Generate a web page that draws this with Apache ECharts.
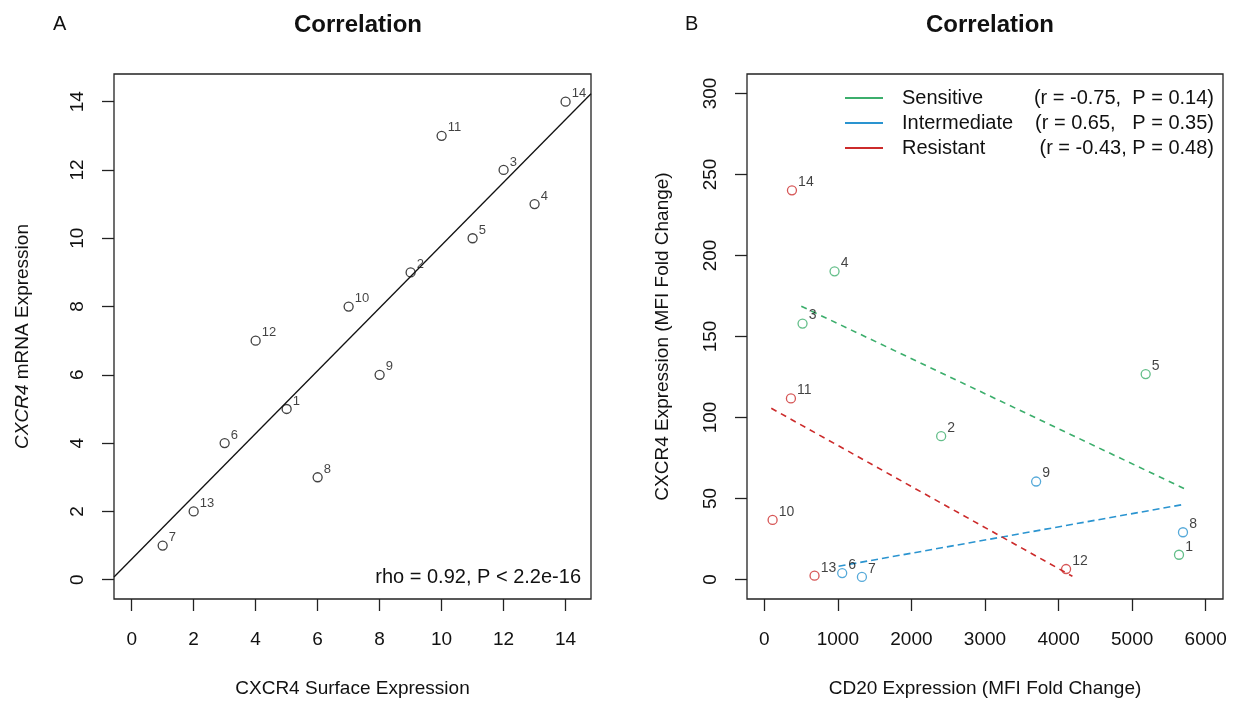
<!DOCTYPE html>
<html>
<head>
<meta charset="utf-8">
<title>Correlation</title>
<script src="https://cdn.jsdelivr.net/npm/echarts@6/dist/echarts.min.js"></script>
<style>
	html, body { margin : 0; padding : 0; background : #fff; }
	#main { width : 1233px; height : 703px; }
</style>
</head>
<body>
<div id="main"></div>
<script>
// panel A: ranks, sample 1..14
var sampleIds = ['1', '2', '3', '4', '5', '6', '7', '8', '9', '10', '11', '12', '13', '14'];
var surfaceRank = [5, 9, 12, 13, 11, 3, 1, 6, 8, 7, 10, 4, 2, 14];
var mrnaRank = [5, 9, 12, 11, 10, 4, 1, 3, 6, 8, 13, 7, 2, 14];
var fitAX = [-0.57, 14.82];
var fitAY = [0.08, 14.23];
var ticksA = [0, 2, 4, 6, 8, 10, 12, 14];

// panel B: CD20 vs CXCR4 (MFI fold change) by group
var sensIds = ['1', '2', '3', '4', '5'];
var sensCD20 = [5637, 2404, 520, 955, 5184];
var sensCXCR4 = [15.3, 88.5, 158.0, 190.2, 126.8];
var interIds = ['6', '7', '8', '9'];
var interCD20 = [1059, 1327, 5691, 3695];
var interCXCR4 = [4.0, 1.6, 29.2, 60.5];
var resIds = ['10', '11', '12', '13', '14'];
var resCD20 = [113, 362, 4102, 683, 376];
var resCXCR4 = [36.8, 111.8, 6.5, 2.4, 240.2];
var fitSensX = [503, 5705];
var fitSensY = [168.7, 56.2];
var fitInterX = [1010, 5705];
var fitInterY = [8.2, 46.4];
var fitResX = [95, 4188];
var fitResY = [105.7, 2.0];
var ticksBX = [0, 1000, 2000, 3000, 4000, 5000, 6000];
var ticksBY = [0, 50, 100, 150, 200, 250, 300];
var groupStats = ['(r = -0.75,  P = 0.14)', '(r = 0.65,   P = 0.35)', '(r = -0.43, P = 0.48)'];

var FONT = '"Liberation Sans", Arial, sans-serif';
var GREEN = '#3cae6c', BLUE = '#2a94d0', RED = '#cc2b2b';

function pts(xs, ys, ids) {
	var out = [];
	for (var i = 0; i < xs.length; i++) {
		out.push({ name : ids ? ids[i] : '', value : [xs[i], ys[i]] });
	}
	return out;
}

function scatter(name, idx, xs, ys, ids, color, fs) {
	return {
		name : name,
		type : 'scatter',
		xAxisIndex : idx,
		yAxisIndex : idx,
		symbol : 'circle',
		symbolSize : 9,
		itemStyle : { color : 'rgba(0,0,0,0)', borderColor : color, borderWidth : 1.3 },
		label : {
			show : true,
			formatter : '{b}',
			position : 'right',
			distance : 1,
			offset : [0, -8],
			color : '#111',
			fontSize : fs,
			fontFamily : FONT
		},
		emphasis : { disabled : true },
		z : 3,
		data : pts(xs, ys, ids)
	};
}

function fitLine(name, idx, xs, ys, color, dash) {
	return {
		name : name,
		type : 'line',
		xAxisIndex : idx,
		yAxisIndex : idx,
		showSymbol : false,
		symbol : 'none',
		silent : true,
		itemStyle : { color : color },
		lineStyle : { color : color, width : dash ? 1.6 : 1.3, type : dash || 'solid' },
		z : 2,
		data : pts(xs, ys)
	};
}

function valueAxis(idx, pos, min, max, ticks, name, gap, rich) {
	return {
		type : 'value',
		gridIndex : idx,
		position : pos,
		min : min,
		max : max,
		splitLine : { show : false },
		axisLine : { show : false, onZero : false },
		axisTick : { show : true, inside : false, length : 12, customValues : ticks,
			lineStyle : { color : '#222', width : 1.3 } },
		axisLabel : { customValues : ticks, margin : pos === 'left' ? 27 : 31,
			rotate : pos === 'left' ? 90 : 0,
			formatter : function(v) { return String(v); },
			fontSize : 19, color : '#111', fontFamily : FONT },
		name : name,
		nameLocation : 'middle',
		nameGap : gap,
		nameRotate : pos === 'left' ? 90 : 0,
		nameTextStyle : { fontSize : 19, color : '#111', fontFamily : FONT, rich : rich }
	};
}

var legendRich = {
	n : { width : 122, fontSize : 20, fontFamily : FONT, color : '#111' },
	s : { width : 190, align : 'right', fontSize : 20, fontFamily : FONT, color : '#111' }
};
var legendNames = ['Sensitive', 'Intermediate', 'Resistant'];

var option = {
	animation : false,
	backgroundColor : '#fff',
	title : [
		{ text : 'A', left : 48, top : 9, textStyle : { fontSize : 20, fontWeight : 'normal', color : '#111', fontFamily : FONT } },
		{ text : 'B', left : 680, top : 9, textStyle : { fontSize : 20, fontWeight : 'normal', color : '#111', fontFamily : FONT } },
		{ text : 'Correlation', left : 353, top : 8, textAlign : 'center', textStyle : { fontSize : 24, fontWeight : 'bold', color : '#111', fontFamily : FONT } },
		{ text : 'Correlation', left : 985, top : 8, textAlign : 'center', textStyle : { fontSize : 24, fontWeight : 'bold', color : '#111', fontFamily : FONT } }
	],
	legend : {
		orient : 'vertical',
		left : 845,
		top : 88,
		padding : 0,
		itemGap : 5,
		itemWidth : 38,
		itemHeight : 2,
		icon : 'rect',
		selectedMode : false,
		data : legendNames,
		formatter : function(name) {
			var i = legendNames.indexOf(name);
			return '{n|' + name + '}{s|' + groupStats[i] + '}';
		},
		textStyle : { fontSize : 20, lineHeight : 20, fontFamily : FONT, rich : legendRich, padding : [0, 0, 0, 14] }
	},
	grid : [
		{ left : 114, top : 74, width : 477, height : 528, show : true, borderColor : '#222', borderWidth : 1.3, backgroundColor : 'transparent' },
		{ left : 747, top : 74, width : 476, height : 528, show : true, borderColor : '#222', borderWidth : 1.3, backgroundColor : 'transparent' }
	],
	xAxis : [
		valueAxis(0, 'bottom', -0.57, 14.82, ticksA, 'CXCR4 Surface Expression', 80),
		valueAxis(1, 'bottom', -235, 6235, ticksBX, 'CD20 Expression (MFI Fold Change)', 80)
	],
	yAxis : [
		valueAxis(0, 'left', -0.565, 14.81, ticksA, '{i|CXCR4} mRNA Expression', 82,
			{ i : { fontStyle : 'italic', fontSize : 19, color : '#111', fontFamily : FONT } }),
		valueAxis(1, 'left', -12, 312, ticksBY, 'CXCR4 Expression (MFI Fold Change)', 75)
	],
	graphic : [
		{ type : 'text', right : 1233 - 581, top : 567,
			style : { text : 'rho = 0.92, P < 2.2e-16', fontSize : 20, fontFamily : FONT, fill : '#111' } }
	],
	series : [
		fitLine('fitA', 0, fitAX, fitAY, '#111', null),
		scatter('samplesA', 0, surfaceRank, mrnaRank, sampleIds, '#111', 13),
		fitLine('Sensitive', 1, fitSensX, fitSensY, GREEN, [6, 5]),
		fitLine('Intermediate', 1, fitInterX, fitInterY, BLUE, [7, 4]),
		fitLine('Resistant', 1, fitResX, fitResY, RED, [6, 5]),
		scatter('sensPts', 1, sensCD20, sensCXCR4, sensIds, GREEN, 14),
		scatter('interPts', 1, interCD20, interCXCR4, interIds, BLUE, 14),
		scatter('resPts', 1, resCD20, resCXCR4, resIds, RED, 14)
	]
};

var myChart = echarts.init(document.getElementById('main'));
myChart.setOption(option);
</script>
</body>
</html>
